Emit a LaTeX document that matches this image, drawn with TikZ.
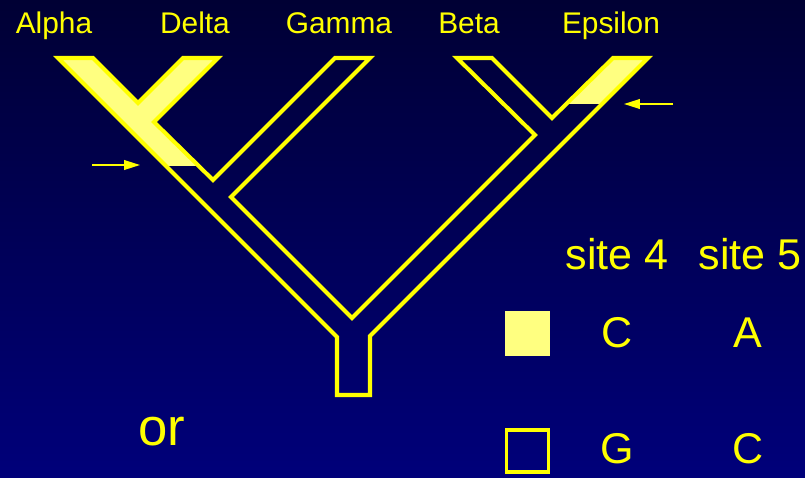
\documentclass[tikz,border=0pt]{standalone}
\usepackage{fontspec}
\setmainfont{Liberation Sans}
\usetikzlibrary{arrows.meta}
\definecolor{slideyel}{RGB}{255,255,0}
\definecolor{paleyel}{RGB}{255,255,128}
\definecolor{topnavy}{RGB}{0,0,52}
\definecolor{lownavy}{RGB}{0,0,122}
\newcommand{\treeoutline}{(58,58) -- (93,58) -- (138,103) -- (183,58) -- (218,58)
  -- (154,122) -- (213,180) -- (335,58) -- (370,58) -- (231,197) -- (352,318)
  -- (535,135) -- (457,58) -- (492,58) -- (552,118) -- (613,58) -- (648,58)
  -- (370,336) -- (370,395) -- (337,395) -- (337,337) -- cycle}
\tikzset{
        taxon/.style={anchor=base,text=slideyel,inner sep=0pt,font=\fontsize{17}{19}\selectfont},
        sitetext/.style={anchor=base,text=slideyel,inner sep=0pt,font=\fontsize{24.5}{28}\selectfont},
        tube/.style={draw=slideyel,line width=2.3pt,line join=miter},
        pointer/.style={-{Triangle[length=9pt,width=5.5pt]},draw=slideyel,line width=0.85pt},
        legbox/.style={rectangle,inner sep=0pt}
    }
\begin{document}
\begin{tikzpicture}[x=0.02cm,y=-0.02cm]
\shade[top color=topnavy,bottom color=lownavy] (0,0) rectangle (805,477);
\useasboundingbox (0,0) rectangle (805,477);
% shaded tips of the tree
\begin{scope}
\clip (0,0) rectangle (225,165);
\fill[paleyel] \treeoutline;
\end{scope}
\begin{scope}
\clip (545,0) rectangle (700,103);
\fill[paleyel] \treeoutline;
\end{scope}
\draw[tube] \treeoutline;
% taxa
\node[taxon] (alpha) at (54,33) {Alpha};
\node[taxon] (delta) at (195,33) {Delta};
\node[taxon] (gamma) at (339,33) {Gamma};
\node[taxon] (beta) at (469,33) {Beta};
\node[taxon] (epsilon) at (611,33) {Epsilon};
% pointers
\coordinate (lefttail) at (92,165);
\coordinate (lefttip) at (140,165);
\coordinate (righttail) at (673,104);
\coordinate (righttip) at (624,104);
\draw[pointer] (lefttail) -- (lefttip);
\draw[pointer] (righttail) -- (righttip);
% legend
\node[sitetext] (site4) at (617,269) {site 4};
\node[sitetext] (site5) at (750,269) {site 5};
\node[legbox,fill=paleyel,minimum size=0.9cm] (fullbox) at (527.5,333.5) {};
\node[sitetext] (fullC) at (617,347) {C};
\node[sitetext] (fullA) at (748,347) {A};
\node[legbox,draw=slideyel,line width=1.8pt,minimum size=0.84cm] (openbox) at (527.5,451) {};
\node[sitetext] (openG) at (617,463) {G};
\node[sitetext] (openC) at (748,463) {C};
\node[anchor=base,text=slideyel,inner sep=0pt,font=\fontsize{30}{34}\selectfont] (ortext) at (162,445) {or};
\end{tikzpicture}
\end{document}
